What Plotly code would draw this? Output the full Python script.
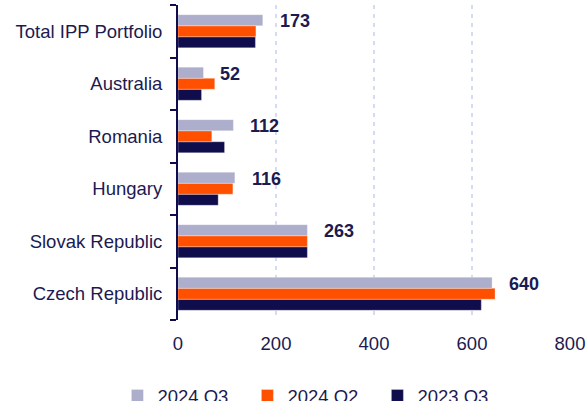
import plotly.graph_objects as go

categories = ["Total IPP Portfolio", "Australia", "Romania", "Hungary", "Slovak Republic", "Czech Republic"]
q3_2024 = [173, 52, 113, 116, 264, 641]
q2_2024 = [159, 75, 69, 112, 264, 647]
q3_2023 = [158, 48, 95, 82, 264, 619]
labels = ["173", "52", "112", "116", "263", "640"]
x_ticks = [0, 200, 400, 600, 800]

NAVY = "#100D4C"
ORANGE = "#FF5000"
LAV = "#ADADCC"
TXT = "#1C1A50"
FONT = "Liberation Sans, Arial, sans-serif"

cats_bottom_up = categories[::-1]

fig = go.Figure()
for name, vals, col in [("2023 Q3", q3_2023, NAVY), ("2024 Q2", q2_2024, ORANGE), ("2024 Q3", q3_2024, LAV)]:
    fig.add_trace(go.Bar(
        name=name, y=categories, x=vals, orientation="h",
        marker=dict(color=col, line=dict(color="rgba(255,255,255,0.6)", width=0.5)),
    ))

for c, v, t in zip(categories, q3_2024, labels):
    fig.add_annotation(x=v, y=c, text="<b>%s</b>" % t, showarrow=False,
                       xanchor="left", yanchor="middle", xshift=15, yshift=10,
                       font=dict(family=FONT, size=18, color=TXT))

fig.update_layout(
    width=587, height=401,
    margin=dict(l=178, r=17, t=5, b=81, autoexpand=False),
    paper_bgcolor="white", plot_bgcolor="white",
    barmode="group", bargap=0.37, bargroupgap=0,
    font=dict(family=FONT, size=18.5, color=TXT),
    showlegend=True,
    legend=dict(orientation="h", traceorder="reversed",
                xref="container", yref="container",
                x=0.2, y=0.06, xanchor="left", yanchor="top",
                entrywidth=85, entrywidthmode="pixels",
                font=dict(family=FONT, size=18.5, color=TXT),
                bgcolor="rgba(0,0,0,0)"),
    xaxis=dict(range=[0, 800], tickvals=x_ticks, ticktext=[str(v) for v in x_ticks],
               showgrid=True, gridcolor="#D3DCF2", gridwidth=1.5, griddash="4px,5px",
               zeroline=False, showline=False, ticks="", ticklabelstandoff=10,
               automargin=False,
               tickfont=dict(family=FONT, size=18.5, color=TXT), fixedrange=True),
    yaxis=dict(categoryorder="array", categoryarray=cats_bottom_up,
               showline=True, linecolor=NAVY, linewidth=2,
               ticks="outside", ticklen=6, tickwidth=2, tickcolor=NAVY,
               tickson="boundaries", ticklabelstandoff=10,
               showgrid=False, zeroline=False, automargin=False, fixedrange=True,
               tickfont=dict(family=FONT, size=18.5, color=TXT)),
)

fig.write_html("out.html", config={"displayModeBar": False},
               post_script="document.body.style.margin='0';document.body.style.overflow='hidden';")
